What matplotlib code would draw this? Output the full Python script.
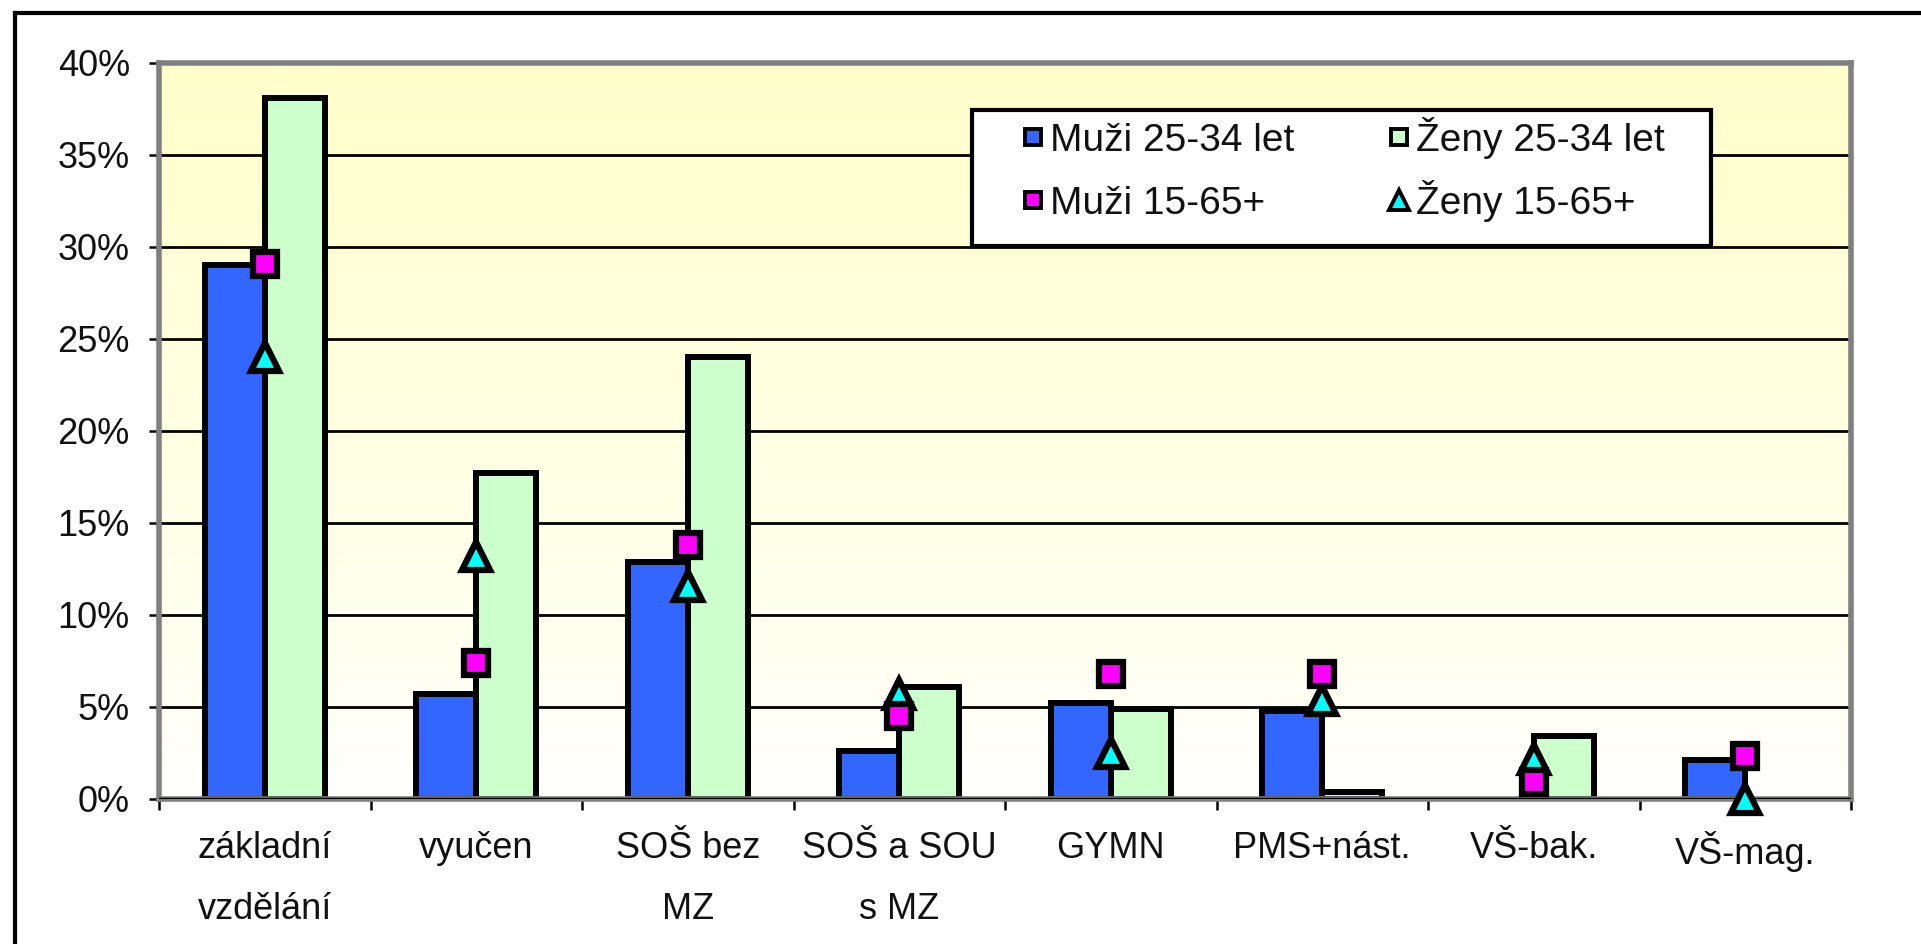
import matplotlib
matplotlib.use("Agg")
import matplotlib.pyplot as plt
import numpy as np
from matplotlib.lines import Line2D
from matplotlib.patches import Rectangle

plt.rcParams["font.family"] = ["Liberation Sans", "DejaVu Sans"]

# kategorie vzdělání a hodnoty v %
kategorie = ["základní\nvzdělání", "vyučen", "SOŠ bez\nMZ", "SOŠ a SOU\ns MZ",
             "GYMN", "PMS+nást.", "VŠ-bak.", "VŠ-mag."]
muzi_2534 = [29.0, 5.7, 12.9, 2.6, 5.2, 4.8, 0.0, 2.1]
zeny_2534 = [38.1, 17.7, 24.0, 6.1, 4.9, 0.4, 3.4, 0.0]
muzi_1565 = [29.1, 7.4, 13.8, 4.5, 6.8, 6.8, 0.9, 2.35]
zeny_1565 = [24.0, 13.2, 11.6, 5.7, 2.5, 5.4, 2.2, 0.0]
yticks = [0, 5, 10, 15, 20, 25, 30, 35, 40]
popisky = ["Muži 25-34 let", "Ženy 25-34 let", "Muži 15-65+", "Ženy 15-65+"]

modra = "#3366FF"
zelena = "#CCFFCC"
fialova = "#FF00FF"
tyrkys = "#00FFFF"
sediva = "#808080"
fs = 26
W, H = 1921, 944

fig = plt.figure(figsize=(W / 100, H / 100), dpi=100)
ax = fig.add_axes([159 / W, 1 - 799 / H, (1851 - 159) / W, (799 - 63) / H])

x = np.arange(len(kategorie))
w = 0.284

# pozadí: přechod z bílé (dole) do světle žluté (nahoře)
t = np.linspace(0, 1, 256)[:, None, None] ** 0.8
zluta = np.array([1.0, 1.0, 0.8])
pozadi = 1 - t * (1 - zluta)
ax.imshow(pozadi, extent=(-0.5, 7.5, 0, 40), aspect="auto", origin="lower", zorder=0)

for v in yticks[1:]:
    ax.axhline(v, color="black", lw=2, zorder=1)

lw_m = [4.3 if v > 0 else 0 for v in muzi_2534]
lw_z = [4.3 if v > 0 else 0 for v in zeny_2534]
ax.bar(x - w / 2, muzi_2534, w, color=modra, edgecolor="black", linewidth=lw_m, zorder=2)
ax.bar(x + w / 2, zeny_2534, w, color=zelena, edgecolor="black", linewidth=lw_z, zorder=2)
ax.axhline(0, color="black", lw=2.5, zorder=3)

ax.plot(x, muzi_1565, ls="none", marker="s", ms=17, mfc=fialova, mec="black", mew=4.5,
        zorder=5, clip_on=False)
ax.plot(x, zeny_1565, ls="none", marker="^", ms=20, mfc=tyrkys, mec="black", mew=4.5,
        zorder=4, clip_on=False)

ax.set_xlim(-0.5, 7.5)
ax.set_ylim(0, 40)
ax.set_yticks(yticks)
ax.set_yticklabels([f"{v}%" for v in yticks], fontsize=fs, color="#111111")
ax.set_xticks(x)
ax.set_xticklabels(kategorie, fontsize=fs, color="#111111", linespacing=1.95)
ax.set_xticks(np.arange(-0.5, 8, 1), minor=True)
ax.tick_params(axis="y", direction="out", length=7, width=1.8, color="black", pad=14)
ax.tick_params(axis="x", which="major", length=0, pad=23)
ax.tick_params(axis="x", which="minor", direction="out", length=8, width=1.8, color="black")

for s in ax.spines.values():
    s.set_color(sediva)
    s.set_linewidth(4)

# legenda skládaná ručně (rámeček, značky, texty)
fig.add_artist(Rectangle((972 / W, 1 - 246 / H), (1711 - 972) / W, (246 - 110) / H,
                         transform=fig.transFigure, facecolor="white", edgecolor="black",
                         lw=3, zorder=4))
znacky = [("s", modra), ("s", zelena), ("s", fialova), ("^", tyrkys)]
sloupce = [1033, 1399]
radky = [137, 200]
for i, (txt, (mk, barva)) in enumerate(zip(popisky, znacky)):
    px = sloupce[i % 2]
    py = radky[i // 2]
    fig.add_artist(Line2D([px / W], [1 - py / H], ls="none", marker=mk,
                          ms=12 if mk == "s" else 14, mfc=barva, mec="black", mew=2.8,
                          transform=fig.transFigure, zorder=5))
    fig.text((px + 17) / W, 1 - (py + 14) / H, txt, fontsize=28, color="#111111",
             ha="left", va="baseline", zorder=5)

# vnější rámeček (horní a levá čára)
fig.add_artist(Line2D([15 / W, 1], [1 - 13 / H] * 2, color="black", lw=3,
                      transform=fig.transFigure))
fig.add_artist(Line2D([15 / W] * 2, [0, 1 - 13 / H], color="black", lw=3,
                      transform=fig.transFigure))

fig.savefig("out.png", dpi=100)
